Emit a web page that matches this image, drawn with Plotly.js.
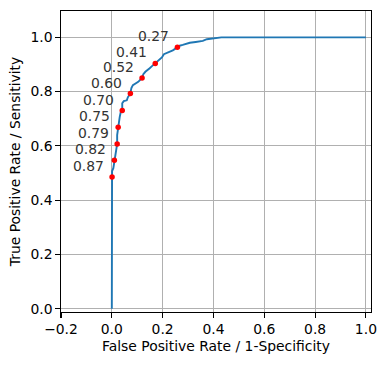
<!DOCTYPE html>
<html>
<head>
<meta charset="utf-8">
<script src="https://cdn.plot.ly/plotly-3.0.1.min.js"></script>
<style>html,body{margin:0;padding:0;background:#fff;}#chart{width:387px;height:365px;}</style>
</head>
<body>
<div id="chart"></div>
<script>
// ROC curve (false positive rate, true positive rate)
const fpr = [0, 0, 0.001, 0.006, 0.010, 0.012, 0.018, 0.021, 0.021, 0.025, 0.026, 0.031, 0.035, 0.041, 0.041, 0.047, 0.059, 0.063, 0.073, 0.077, 0.083, 0.094, 0.104, 0.119, 0.124, 0.132, 0.142, 0.149, 0.157, 0.171, 0.181, 0.189, 0.197, 0.205, 0.212, 0.228, 0.240, 0.258, 0.267, 0.279, 0.291, 0.307, 0.330, 0.358, 0.374, 0.393, 0.431, 1.0];
const tpr = [0, 0.485, 0.507, 0.518, 0.546, 0.559, 0.585, 0.607, 0.640, 0.669, 0.688, 0.706, 0.724, 0.730, 0.757, 0.765, 0.768, 0.779, 0.793, 0.813, 0.824, 0.831, 0.836, 0.850, 0.864, 0.873, 0.879, 0.886, 0.893, 0.904, 0.912, 0.919, 0.926, 0.938, 0.941, 0.947, 0.952, 0.963, 0.969, 0.972, 0.976, 0.980, 0.983, 0.987, 0.993, 0.996, 1.0, 1.0];

// Marked thresholds
const thrLabels = ["0.87", "0.82", "0.79", "0.75", "0.70", "0.60", "0.52", "0.41", "0.27"];
const thrFpr = [0.001, 0.010, 0.021, 0.025, 0.041, 0.073, 0.119, 0.171, 0.258];
const thrTpr = [0.485, 0.547, 0.607, 0.669, 0.730, 0.793, 0.850, 0.904, 0.963];

// Tick labels
const xTickVals = [-0.2, 0, 0.2, 0.4, 0.6, 0.8, 1.0];
const xTickText = ["\u22120.2", "0.0", "0.2", "0.4", "0.6", "0.8", "1.0"];
const yTickVals = [0, 0.2, 0.4, 0.6, 0.8, 1.0];
const yTickText = ["0.0", "0.2", "0.4", "0.6", "0.8", "1.0"];

const font = {family: "DejaVu Sans, sans-serif", size: 13.9, color: "#000"};

const traces = [
  {x: fpr, y: tpr, type: "scatter", mode: "lines", line: {color: "#1f77b4", width: 1.9}, hoverinfo: "skip", showlegend: false},
  {x: thrFpr, y: thrTpr, type: "scatter", mode: "markers", marker: {color: "red", size: 5.5}, showlegend: false}
];

const annotations = thrLabels.map((t, i) => ({
  x: thrFpr[i], y: thrTpr[i], xref: "x", yref: "y", text: t, showarrow: false,
  xanchor: "right", yanchor: "middle", xshift: -6, yshift: 11,
  font: {family: "DejaVu Sans, sans-serif", size: 13.9, color: "#333"}
}));

const axisCommon = {
  showline: true, mirror: true, linecolor: "#000", linewidth: 1.1,
  showgrid: true, gridcolor: "#b0b0b0", gridwidth: 1, zeroline: false,
  ticks: "outside", ticklen: 4.5, tickwidth: 1.1, tickcolor: "#000",
  tickfont: font, tickmode: "array"
};

const layout = {
  width: 387, height: 365,
  margin: {l: 61, r: 16, t: 11, b: 53},
  paper_bgcolor: "#fff", plot_bgcolor: "#fff",
  font: font,
  xaxis: Object.assign({}, axisCommon, {
    range: [-0.2, 1.02], tickvals: xTickVals, ticktext: xTickText,
    title: {text: "False Positive Rate / 1-Specificity", font: font, standoff: 5}
  }),
  yaxis: Object.assign({}, axisCommon, {
    range: [-0.012, 1.097], tickvals: yTickVals, ticktext: yTickText,
    title: {text: "True Positive Rate / Sensitivity", font: font, standoff: 6}
  }),
  annotations: annotations
};

Plotly.newPlot("chart", traces, layout, {displayModeBar: false, staticPlot: true});
</script>
</body>
</html>
